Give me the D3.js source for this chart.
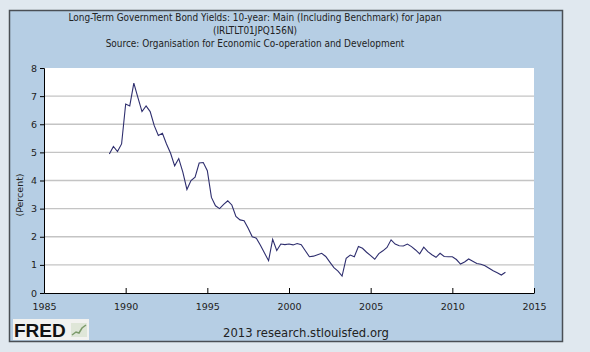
<!DOCTYPE html>
<html><head><meta charset="utf-8">
<script src="https://cdn.jsdelivr.net/npm/d3@7"></script>
<style>html,body{margin:0;padding:0;background:#e0e8ef;}svg{display:block;}</style>
</head><body>
<svg id="c" width="590" height="352"></svg>
<script>
const startYear = 1989.0;
const step = 0.25;
const yields = [
4.94,5.21,5.03,5.30, 6.72,6.65,7.46,6.95, 6.45,6.65,6.45,5.95, 5.60,5.68,5.30,4.97,
4.52,4.78,4.30,3.68, 4.00,4.12,4.62,4.64, 4.35,3.40,3.10,3.00, 3.15,3.28,3.13,2.72,
2.60,2.57,2.30,2.00, 1.95,1.70,1.42,1.15, 1.91,1.51,1.74,1.72, 1.74,1.71,1.76,1.72,
1.50,1.29,1.31,1.36, 1.41,1.30,1.10,0.90, 0.78,0.60,1.23,1.35, 1.29,1.65,1.59,1.45,
1.33,1.20,1.40,1.50, 1.62,1.89,1.74,1.68, 1.67,1.74,1.65,1.53, 1.39,1.63,1.47,1.36,
1.27,1.41,1.30,1.29, 1.29,1.19,1.03,1.10, 1.21,1.13,1.05,1.02, 0.97,0.88,0.79,0.72,
0.64,0.74];
const xTicks = [1985,1990,1995,2000,2005,2010,2015];
const yTicks = [0,1,2,3,4,5,6,7,8];
const titleLines = [
 "Long-Term Government Bond Yields: 10-year: Main (Including Benchmark) for Japan",
 "(IRLTLT01JPQ156N)",
 "Source: Organisation for Economic Co-operation and Development"];
const yLabel = "(Percent)";
const footer = "2013 research.stlouisfed.org";

const data = yields.map((v,i)=>({t:startYear+i*step, v}));
const svg = d3.select("#c");
const font = "DejaVu Sans, Verdana, sans-serif";

svg.append("rect").attr("x",9.5).attr("y",10.5).attr("width",553).attr("height",331)
  .attr("fill","#b6cee4").attr("stroke","#4a4f55").attr("stroke-width",1.5);

const x = d3.scaleLinear().domain([1985,2015]).range([44,534]);
const y = d3.scaleLinear().domain([0,8]).range([293,68]);

svg.append("rect").attr("x",44).attr("y",68).attr("width",490).attr("height",225).attr("fill","#fff");

// grid
svg.append("g").selectAll("line").data(yTicks.filter(d=>d>0&&d<8)).join("line")
  .attr("x1",44).attr("x2",534).attr("y1",d=>y(d)).attr("y2",d=>y(d))
  .attr("stroke","#c4c4c4").attr("stroke-width",1.3);

// axes
const gy = svg.append("g").attr("transform","translate(44,0)")
  .call(d3.axisLeft(y).tickValues(yTicks).tickSize(4).tickPadding(3).tickFormat(d3.format("d")));
gy.select(".domain").attr("stroke","#000");
gy.selectAll("text").attr("font-family",font).attr("font-size",9.5).attr("fill","#222");

const gx = svg.append("g").attr("transform","translate(0,293)")
  .call(d3.axisBottom(x).tickValues(xTicks).tickSize(0).tickPadding(10).tickFormat(d3.format("d")));
gx.select(".domain").attr("stroke","#000");
gx.selectAll("text").attr("font-family",font).attr("font-size",9.5).attr("fill","#222");
gx.selectAll(".tick").append("line").attr("y1",0).attr("y2",-5).attr("stroke","#000");

// line
svg.append("path").datum(data)
  .attr("d", d3.line().x(d=>x(d.t)).y(d=>y(d.v)))
  .attr("fill","none").attr("stroke","#2e2e6e").attr("stroke-width",1.1);

// title
svg.append("g").selectAll("text").data(titleLines).join("text")
  .attr("x",255).attr("y",(d,i)=>21+i*13).attr("text-anchor","middle")
  .attr("font-family","DejaVu Sans Condensed, sans-serif").attr("font-size",9.95).attr("fill","#222")
  .text(d=>d);

svg.append("text").attr("transform","translate(23,195) rotate(-90)").attr("text-anchor","middle")
  .attr("font-family",font).attr("font-size",9.5).attr("fill","#222").text(yLabel);

svg.append("text").attr("x",306).attr("y",337).attr("text-anchor","middle")
  .attr("font-family",font).attr("font-size",11.6).attr("fill","#222").text(footer);

// FRED logo
const logo = svg.append("g");
logo.append("rect").attr("x",13).attr("y",319).attr("width",76).attr("height",21).attr("fill","#f2f2f0");
logo.append("text").attr("x",14).attr("y",337).attr("font-family","Liberation Sans, Arial, sans-serif")
  .attr("font-weight","bold").attr("font-size",19).attr("fill","#111").text("FRED");
logo.append("rect").attr("x",71).attr("y",323).attr("width",16).attr("height",14).attr("fill","#dfe6d8");
logo.append("path").attr("d","M72,335 L76,332 L79,333 L82,328 L86,325").attr("fill","none")
  .attr("stroke","#7c9a6a").attr("stroke-width",1.5);
</script>
</body></html>
